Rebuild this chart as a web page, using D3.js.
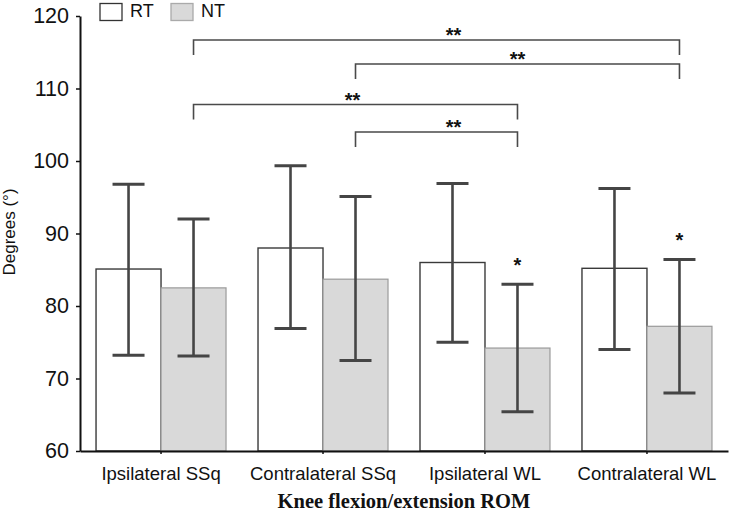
<!DOCTYPE html>
<html><head><meta charset="utf-8">
<script src="https://cdn.jsdelivr.net/npm/d3@7"></script>
<style>body{margin:0;background:#fff}svg{display:block}</style>
</head><body>
<svg id="c" width="731" height="515"></svg>
<script>
const categories = ["Ipsilateral SSq", "Contralateral SSq", "Ipsilateral WL", "Contralateral WL"];
const seriesNames = ["RT", "NT"];
const rtMean = [85.1, 88.0, 86.0, 85.2];
const rtUpper = [96.8, 99.35, 96.9, 96.2];
const rtLower = [73.2, 76.9, 75.0, 74.0];
const ntMean = [82.5, 83.7, 74.2, 77.2];
const ntUpper = [92.0, 95.1, 83.0, 86.4];
const ntLower = [73.1, 72.5, 65.4, 68.0];
const yTicks = [60, 70, 80, 90, 100, 110, 120];
// significance brackets between NT bars: [fromCategory, toCategory, label]
const brackets = [
  [0, 3, "**"],
  [1, 3, "**"],
  [0, 2, "**"],
  [1, 2, "**"]
];
const singleStars = [[2, "NT", "*"], [3, "NT", "*"]];

(function () {
const svg = d3.select("#c");
const mLeft = 80, mRight = 728, mTop = 16, mBottom = 451;
const y = d3.scaleLinear().domain([60, 120]).range([mBottom, mTop]);
const x0 = d3.scaleBand().domain(categories).range([mLeft, mRight]).paddingInner(0.1975).paddingOuter(0.099);
const x1 = d3.scaleBand().domain(seriesNames).range([0, x0.bandwidth()]);

const rows = [];
categories.forEach((c, i) => {
  rows.push({cat: c, s: "RT", m: rtMean[i], hi: rtUpper[i], lo: rtLower[i]});
  rows.push({cat: c, s: "NT", m: ntMean[i], hi: ntUpper[i], lo: ntLower[i]});
});
const cx = (cat, s) => x0(cat) + x1(s) + x1.bandwidth() / 2;

// bars
svg.append("g").selectAll("rect").data(rows).join("rect")
  .attr("x", d => x0(d.cat) + x1(d.s))
  .attr("y", d => y(d.m))
  .attr("width", x1.bandwidth())
  .attr("height", d => y(60) - y(d.m))
  .attr("fill", d => d.s === "RT" ? "#ffffff" : "#d9d9d9")
  .attr("stroke", d => d.s === "RT" ? "#3a3a3a" : "#9a9a9a")
  .attr("stroke-width", d => d.s === "RT" ? 1.4 : 1.2);

// error bars
const eb = svg.append("g").attr("stroke", "#454545").attr("fill", "none");
rows.forEach(d => {
  const c = cx(d.cat, d.s);
  eb.append("line").attr("x1", c).attr("x2", c).attr("y1", y(d.hi)).attr("y2", y(d.lo)).attr("stroke-width", 2.6);
  [d.hi, d.lo].forEach(v => eb.append("line").attr("x1", c - 16).attr("x2", c + 16).attr("y1", y(v)).attr("y2", y(v)).attr("stroke-width", 3));
});

// axes
const yAxis = svg.append("g").attr("transform", `translate(${mLeft},0)`)
  .call(d3.axisLeft(y).tickValues(yTicks).tickSize(4).tickSizeOuter(0).tickPadding(7));
yAxis.select(".domain").attr("stroke", "#111").attr("stroke-width", 2);
yAxis.selectAll(".tick line").attr("stroke", "#111").attr("stroke-width", 1.5);
yAxis.selectAll("text").attr("font-family", "Liberation Sans, Arial, sans-serif").attr("font-size", 21.5).attr("fill", "#111");

const xAxis = svg.append("g").attr("transform", `translate(0,${mBottom})`)
  .call(d3.axisBottom(x0).tickSize(3).tickSizeOuter(0).tickPadding(13));
xAxis.select(".domain").attr("stroke", "#111").attr("stroke-width", 2);
xAxis.selectAll(".tick line").attr("stroke", "#111").attr("stroke-width", 1.5);
xAxis.selectAll("text").attr("font-family", "Liberation Sans, Arial, sans-serif").attr("font-size", 18.5).attr("fill", "#111");

// axis titles
svg.append("text").attr("transform", "translate(15,232) rotate(-90)")
  .attr("text-anchor", "middle").attr("font-family", "Liberation Sans, Arial, sans-serif")
  .attr("font-size", 17).attr("fill", "#111").text("Degrees (°)");
svg.append("text").attr("x", 404).attr("y", 508).attr("text-anchor", "middle")
  .attr("font-family", "Liberation Serif, Times New Roman, serif").attr("font-weight", "bold")
  .attr("font-size", 20.5).attr("fill", "#111").text("Knee flexion/extension ROM");

// legend
const lg = svg.append("g").attr("font-family", "Liberation Sans, Arial, sans-serif").attr("font-size", 18).attr("fill", "#111");
[["RT", 100, "#ffffff", "#333"], ["NT", 171, "#d9d9d9", "#aaa"]].forEach(([n, lx, f, s]) => {
  lg.append("rect").attr("x", lx).attr("y", 3.5).attr("width", 22).attr("height", 17).attr("fill", f).attr("stroke", s).attr("stroke-width", 1.3);
  lg.append("text").attr("x", lx + 30).attr("y", 17).text(n);
});

// brackets
const bracketLevels = [40, 64, 104.5, 132];
const starDx = [17, 0, -3, 17];
const bg = svg.append("g");
brackets.forEach((b, i) => {
  const xa = cx(categories[b[0]], "NT"), xb = cx(categories[b[1]], "NT");
  const by = bracketLevels[i];
  bg.append("path").attr("d", `M${xa},${by + 15}V${by}H${xb}V${by + 15}`)
    .attr("fill", "none").attr("stroke", "#4a4a4a").attr("stroke-width", 1.6);
  bg.append("text").attr("x", (xa + xb) / 2 + starDx[i]).attr("y", by + 2)
    .attr("text-anchor", "middle").attr("font-family", "Liberation Sans, Arial, sans-serif")
    .attr("font-size", 20).attr("font-weight", "bold").attr("fill", "#111").text(b[2]);
});
singleStars.forEach(([ci, s, lab]) => {
  const hi = s === "NT" ? ntUpper[ci] : rtUpper[ci];
  svg.append("text").attr("x", cx(categories[ci], s)).attr("y", y(hi) - 12.5)
    .attr("text-anchor", "middle").attr("font-family", "Liberation Sans, Arial, sans-serif")
    .attr("font-size", 20).attr("font-weight", "bold").attr("fill", "#111").text(lab);
});
})();
</script>
</body></html>
